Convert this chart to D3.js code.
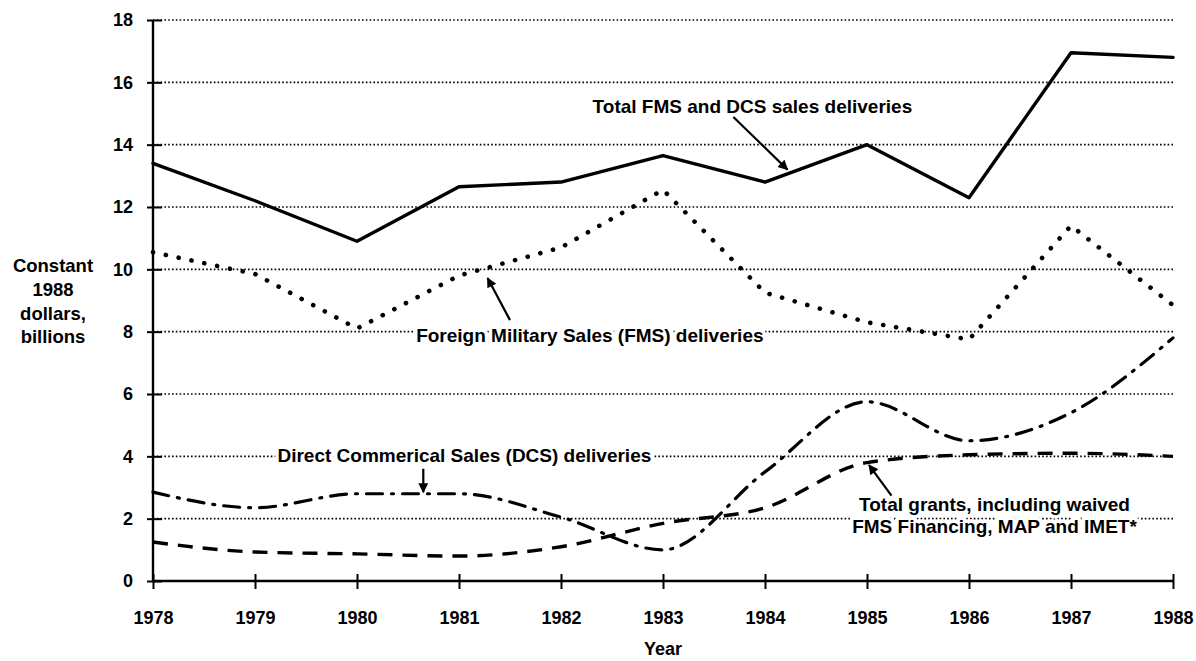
<!DOCTYPE html>
<html>
<head>
<meta charset="utf-8">
<script src="https://cdn.jsdelivr.net/npm/d3@7"></script>
<style>
  body { margin: 0; background: #fff; }
  svg { display: block; font-family: "Liberation Sans", Arial, sans-serif; font-weight: bold; }
</style>
</head>
<body>
<svg id="chart"></svg>
<script>
// values (billions of constant 1988 dollars)
const years = [1978, 1979, 1980, 1981, 1982, 1983, 1984, 1985, 1986, 1987, 1988];
const totalSales = [13.4, 12.2, 10.9, 12.65, 12.8, 13.65, 12.8, 14.0, 12.3, 16.95, 16.8];
const fmsDeliveries = [10.55, 9.85, 8.1, 9.8, 10.7, 12.55, 9.25, 8.3, 7.75, 11.4, 8.85];
const dcsDeliveries = [2.85, 2.35, 2.8, 2.8, 2.05, 1.0, 3.5, 5.75, 4.5, 5.4, 7.8];
const totalGrants = [1.25, 0.93, 0.87, 0.8, 1.1, 1.85, 2.35, 3.8, 4.05, 4.1, 4.0];
const yTicks = [0, 2, 4, 6, 8, 10, 12, 14, 16, 18];
const yTitle = ["Constant", "1988", "dollars,", "billions"];
const xTitle = "Year";

const size = { width: 1196, height: 661 };
const padding = { top: 20, bottom: 80, left: 153, right: 23 };

const svg = d3.select("#chart").attr("width", size.width).attr("height", size.height);

const xScale = d3.scaleLinear().domain([1978, 1988]).range([padding.left, size.width - padding.right]);
const yScale = d3.scaleLinear().domain([0, 18]).range([size.height - padding.bottom, padding.top]);

// dotted grid lines
svg.append("g").selectAll("line").data(yTicks.filter(d => d > 0)).enter().append("line")
  .attr("x1", xScale(1978)).attr("x2", xScale(1988))
  .attr("y1", d => yScale(d)).attr("y2", d => yScale(d))
  .attr("stroke", "#000").attr("stroke-width", 1.6).attr("stroke-dasharray", "1.6,2.2");

// axes
const yAxis = d3.axisLeft(yScale).tickValues(yTicks).tickSize(6).tickPadding(14).tickFormat(d3.format("d"));
const xAxis = d3.axisBottom(xScale).tickValues(years).tickSize(8).tickPadding(22).tickFormat(d3.format("d"));

const gy = svg.append("g").attr("transform", `translate(${xScale(1978)},0)`).call(yAxis);
const gx = svg.append("g").attr("transform", `translate(0,${yScale(0)})`).call(xAxis);

[gx, gy].forEach(g => {
  g.select(".domain").attr("stroke", "#000").attr("stroke-width", 2.4).attr("d", null);
  g.selectAll("text").attr("font-size", 18).attr("font-weight", "bold").attr("fill", "#000")
    .attr("font-family", "Liberation Sans, Arial, sans-serif");
  g.selectAll(".tick line").attr("stroke", "#000").attr("stroke-width", 2);
});
gy.select(".domain").remove();
gx.select(".domain").remove();
svg.append("line").attr("x1", xScale(1978)).attr("x2", xScale(1978))
  .attr("y1", yScale(18)).attr("y2", yScale(0)).attr("stroke", "#000").attr("stroke-width", 2.4);
svg.append("line").attr("x1", xScale(1978)).attr("x2", xScale(1988))
  .attr("y1", yScale(0)).attr("y2", yScale(0)).attr("stroke", "#000").attr("stroke-width", 2.4);
// ticks cross the axes
gy.selectAll(".tick line").attr("x1", 9);
gx.selectAll(".tick line").attr("y1", -7);

// axis titles
svg.append("text").attr("x", xScale(1983)).attr("y", 655).attr("text-anchor", "middle")
  .attr("font-size", 18).text(xTitle);
svg.append("text").attr("text-anchor", "middle").attr("font-size", 18.5)
  .selectAll("tspan").data(yTitle).enter().append("tspan")
  .attr("x", 53).attr("y", (_, i) => 272 + i * 23.8).text(d => d);

// series
const line = d3.line().x((_, i) => xScale(years[i])).y(d => yScale(d));
const smooth = d3.line().curve(d3.curveMonotoneX).x((_, i) => xScale(years[i])).y(d => yScale(d));

const series = [
  { values: totalSales, gen: line, dash: null, width: 3.4, cap: "round" },
  { values: fmsDeliveries, gen: line, dash: "0.1,13", width: 4.6, cap: "round" },
  { values: dcsDeliveries, gen: smooth, dash: "16,9,2,9", width: 3.2, cap: "round" },
  { values: totalGrants, gen: smooth, dash: "15,10", width: 3.4, cap: "butt" }
];
svg.append("g").selectAll("path").data(series).enter().append("path")
  .attr("d", d => d.gen(d.values))
  .attr("fill", "none").attr("stroke", "#000")
  .attr("stroke-width", d => d.width)
  .attr("stroke-dasharray", d => d.dash)
  .attr("stroke-linecap", d => d.cap)
  .attr("stroke-linejoin", "round");

// annotations (in data units)
svg.append("defs").append("marker").attr("id", "arrow")
  .attr("viewBox", "0 0 10 10").attr("refX", 9).attr("refY", 5)
  .attr("markerWidth", 14).attr("markerHeight", 10).attr("markerUnits", "userSpaceOnUse")
  .attr("orient", "auto")
  .append("path").attr("d", "M0,0 L10,5 L0,10 Z").attr("fill", "#000");

const annotations = [
  { lines: ["Total FMS and DCS sales deliveries"], x: 1982.31, y: 15.01, anchor: "start",
    from: [1983.69, 14.89], to: [1984.22, 13.2] },
  { lines: ["Foreign Military Sales (FMS) deliveries"], x: 1980.58, y: 7.67, anchor: "start",
    from: [1981.5, 8.37], to: [1981.28, 9.72] },
  { lines: ["Direct Commerical Sales (DCS) deliveries"], x: 1979.22, y: 3.82, anchor: "start",
    from: [1980.65, 3.6], to: [1980.65, 2.85] },
  { lines: ["Total grants, including waived", "FMS Financing, MAP and IMET*"], x: 1986.25, y: 2.25, anchor: "middle",
    from: [1985.24, 2.74], to: [1985.02, 3.72] }
];

const ann = svg.append("g");
annotations.forEach(a => {
  ann.append("text").attr("text-anchor", a.anchor).attr("font-size", 19)
    .attr("stroke", "#fff").attr("stroke-width", 7).attr("paint-order", "stroke")
    .attr("stroke-linejoin", "round")
    .selectAll("tspan").data(a.lines).enter().append("tspan")
    .attr("x", xScale(a.x)).attr("y", (_, i) => yScale(a.y) + i * 22).text(d => d);
  ann.append("line")
    .attr("x1", xScale(a.from[0])).attr("y1", yScale(a.from[1]))
    .attr("x2", xScale(a.to[0])).attr("y2", yScale(a.to[1]))
    .attr("stroke", "#000").attr("stroke-width", 2.2).attr("marker-end", "url(#arrow)");
});
</script>
</body>
</html>
